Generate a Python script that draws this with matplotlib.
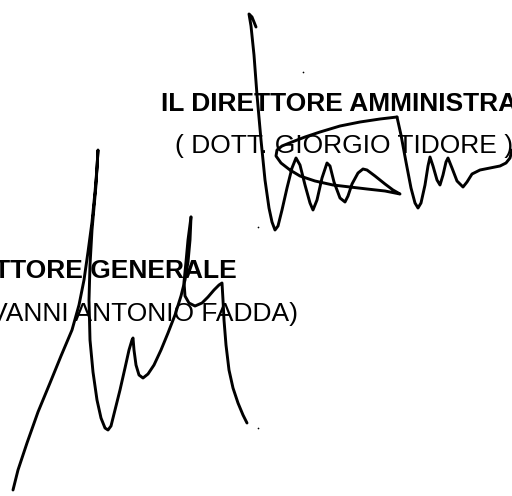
import matplotlib
matplotlib.use("Agg")
import matplotlib.pyplot as plt

# ---- text lines (content, anchor x, baseline y, weight, alignment) ----
text_lines = ["IL DIRETTORE AMMINISTRATIVO", "( DOTT. GIORGIO TIDORE )",
              "IL DIRETTORE GENERALE", "( DOTT. GIOVANNI ANTONIO FADDA)"]
text_x = [161, 175, 237, 298]
text_y = [111, 153, 278, 321]
text_weight = ["bold", "normal", "bold", "normal"]
text_ha = ["left", "left", "right", "right"]

# ---- signature strokes (image pixel coords) ----
sig1a_x = [256, 252, 249, 251, 254, 257, 261, 265, 269, 272, 275, 278, 282, 287, 292, 296,
           300, 305, 310, 313, 317, 322, 327, 330, 334, 340, 345, 348, 352, 358, 363, 367,
           375, 385, 393, 400, 385, 367, 350, 333, 315, 300, 290, 281, 276, 277, 282, 292,
           305, 320, 340, 360, 380, 397]
sig1a_y = [27, 17, 14, 26, 55, 95, 140, 180, 208, 222, 230, 226, 210, 188, 168, 158,
           165, 185, 203, 210, 200, 178, 163, 166, 182, 198, 202, 196, 184, 173, 169, 170,
           176, 184, 190, 194, 191, 189, 187, 185, 181, 176, 170, 163, 156, 150, 146, 142,
           137, 132, 126, 122, 119, 117]
sig1b_x = [397, 401, 406, 411, 415, 418, 421, 425, 428, 430, 433, 437, 440, 443, 446, 448,
           452, 457, 463, 467, 472, 480, 490, 500, 506, 510, 512]
sig1b_y = [117, 135, 162, 188, 203, 208, 203, 185, 166, 157, 166, 180, 185, 175, 162, 158,
           168, 181, 187, 182, 174, 170, 168, 166, 163, 158, 150]

sig2a_x = [13, 18, 27, 38, 50, 61, 72, 79, 84, 88, 92, 95, 97, 98, 96, 92, 90, 89, 90, 93,
           97, 101, 105, 108, 111, 115, 120, 125, 129, 132, 133, 134, 136, 139, 143, 148,
           154, 161, 168, 175, 181, 185, 188, 190, 191]
sig2a_y = [490, 470, 443, 412, 383, 356, 330, 305, 280, 252, 222, 192, 168, 150, 185, 230,
           265, 300, 340, 372, 400, 418, 428, 430, 426, 410, 390, 368, 350, 340, 338, 350,
           365, 375, 378, 374, 365, 350, 333, 315, 296, 280, 262, 240, 217]
sig2b_x = [191, 188, 186, 184, 185, 189, 195, 202, 208, 214, 219, 222, 223, 224, 226, 229,
           233, 238, 243, 247]
sig2b_y = [217, 240, 262, 282, 296, 303, 306, 303, 297, 290, 285, 283, 300, 320, 345, 370,
           388, 403, 415, 423]

strokes = [(sig1a_x, sig1a_y), (sig1b_x, sig1b_y), (sig2a_x, sig2a_y), (sig2b_x, sig2b_y)]

# stray specks of the scan
dots_x = [303, 258, 258]
dots_y = [72, 227, 428]

W, H = 512, 496
fig = plt.figure(figsize=(W / 100, H / 100), dpi=100)
ax = fig.add_axes([0, 0, 1, 1])
ax.set_xlim(0, W)
ax.set_ylim(H, 0)
ax.axis("off")
fig.patch.set_facecolor("white")

for s, x, y, w, ha in zip(text_lines, text_x, text_y, text_weight, text_ha):
    ax.text(x, y, s, fontsize=19, fontweight=w, ha=ha, va="baseline",
            family=["Liberation Sans", "DejaVu Sans"], color="black")

for xs, ys in strokes:
    ax.plot(xs, ys, color="black", lw=2.1, solid_capstyle="round", solid_joinstyle="round")

ax.scatter(dots_x, dots_y, s=1.5, color="black", linewidths=0)

fig.savefig("out.png", dpi=100, facecolor="white")
